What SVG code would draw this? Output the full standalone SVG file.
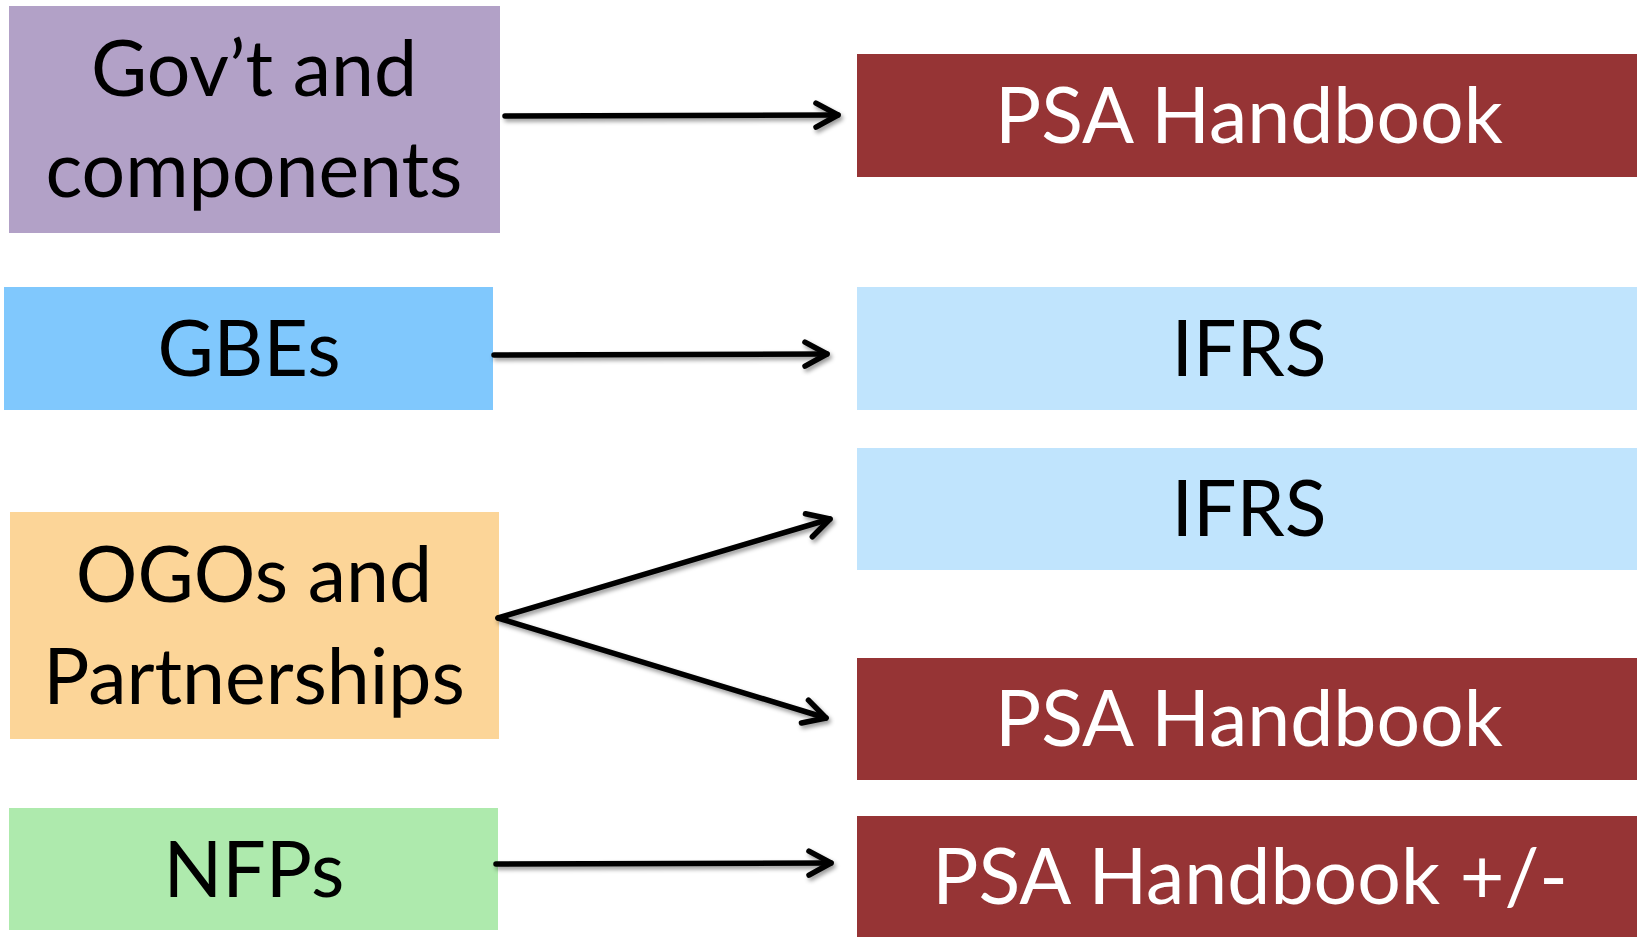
<svg xmlns="http://www.w3.org/2000/svg" width="1637" height="937" viewBox="0 0 1637 937">
  <style>
    .label { font-family: Lato, "Open Sans", "Noto Sans", sans-serif; font-size: 77px; text-anchor: middle; }
    .dark { fill: #000000; }
    .light { fill: #ffffff; }
    .link { stroke: #000000; stroke-width: 5.5; fill: none; stroke-linecap: round; marker-end: url(#chevron); }
  </style>
  <defs>
    <marker id="chevron" markerUnits="userSpaceOnUse" markerWidth="40" markerHeight="40" refX="30" refY="20" orient="auto" overflow="visible">
      <path d="M 8,8 L 30,20 L 8,32" fill="none" stroke="#000000" stroke-width="5.5" stroke-linecap="round" stroke-linejoin="round"/>
    </marker>
    <filter id="shadow" x="-10%" y="-50%" width="120%" height="200%">
      <feDropShadow dx="2" dy="3" stdDeviation="2" flood-color="#000000" flood-opacity="0.4"/>
    </filter>
  </defs>

  <rect width="1637" height="937" fill="#ffffff"/>

  <!-- Left column: entity types -->
  <g id="govt">
    <rect x="9" y="6" width="491" height="227" fill="#B2A1C7"/>
    <text class="label dark" x="254" y="96">Gov’t and</text>
    <text class="label dark" x="254" y="197">components</text>
  </g>
  <g id="gbes">
    <rect x="4" y="287" width="489" height="123" fill="#80C8FD"/>
    <text class="label dark" x="249" y="376">GBEs</text>
  </g>
  <g id="ogos">
    <rect x="10" y="512" width="489" height="227" fill="#FCD598"/>
    <text class="label dark" x="254" y="602">OGOs and</text>
    <text class="label dark" x="254" y="704">Partnerships</text>
  </g>
  <g id="nfps">
    <rect x="9" y="808" width="489" height="122" fill="#AEEAAD"/>
    <text class="label dark" x="254" y="897">NFPs</text>
  </g>

  <!-- Right column: accounting frameworks -->
  <g id="psa-1">
    <rect x="857" y="54" width="780" height="123" fill="#963435"/>
    <text class="label light" x="1249" y="143">PSA Handbook</text>
  </g>
  <g id="ifrs-1">
    <rect x="857" y="287" width="780" height="123" fill="#C0E4FD"/>
    <text class="label dark" x="1249" y="376">IFRS</text>
  </g>
  <g id="ifrs-2">
    <rect x="857" y="448" width="780" height="122" fill="#C0E4FD"/>
    <text class="label dark" x="1249" y="536">IFRS</text>
  </g>
  <g id="psa-2">
    <rect x="857" y="658" width="780" height="122" fill="#963435"/>
    <text class="label light" x="1249" y="746">PSA Handbook</text>
  </g>
  <g id="psa-3">
    <rect x="857" y="816" width="780" height="121" fill="#963435"/>
    <text class="label light" x="1250" y="904">PSA Handbook +/-</text>
  </g>

  <!-- Connectors -->
  <g id="connectors" filter="url(#shadow)">
    <line class="link" x1="505" y1="116" x2="838" y2="115"/>
    <line class="link" x1="494" y1="355" x2="827" y2="354"/>
    <line class="link" x1="498" y1="618" x2="830" y2="519"/>
    <line class="link" x1="498" y1="618" x2="826" y2="718"/>
    <line class="link" x1="496" y1="864" x2="831" y2="863"/>
  </g>
</svg>
